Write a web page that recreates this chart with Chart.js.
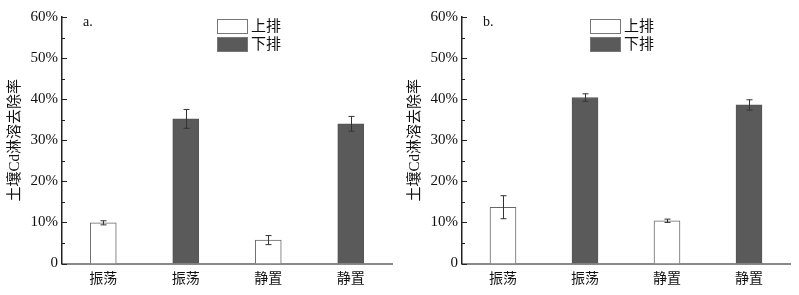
<!DOCTYPE html>
<html>
<head>
<meta charset="utf-8">
<script src="https://cdn.jsdelivr.net/npm/chart.js@4"></script>
<style>
  body { margin: 0; background: #fff; }
  #wrap { display: flex; width: 799px; height: 295px; }
  canvas { display: block; }
</style>
</head>
<body>
<div id="wrap">
  <canvas id="chartA" width="400" height="295"></canvas>
  <canvas id="chartB" width="399" height="295"></canvas>
</div>
<script>
const categories = ['振荡', '振荡', '静置', '静置'];
const seriesNames = ['上排', '下排'];

// panel a
const upperA = [9.9, null, 5.7, null];
const upperErrA = [0.5, null, 1.1, null];
const lowerA = [null, 35.2, null, 34.0];
const lowerErrA = [null, 2.3, null, 1.8];

// panel b
const upperB = [13.7, null, 10.4, null];
const upperErrB = [2.8, null, 0.4, null];
const lowerB = [null, 40.4, null, 38.6];
const lowerErrB = [null, 0.9, null, 1.25];

const yTicks = [0, 10, 20, 30, 40, 50, 60];

const serif = '"Liberation Serif", "Noto Sans CJK SC", serif';

// inward ticks, error bars, legend and panel letter
const decor = {
    id: 'decor',
    afterDatasetsDraw(chart, args, opts) {
        const ctx = chart.ctx;
        const y = chart.scales.y;
        const left = chart.chartArea.left;
        ctx.save();

        // y ticks (major + minor), pointing into the plot
        ctx.strokeStyle = '#222';
        ctx.lineWidth = 1;
        for (let k = 0; k < yTicks.length; k++) {
            const py = Math.round(y.getPixelForValue(yTicks[k])) + 0.5;
            ctx.beginPath();
            ctx.moveTo(left, py);
            ctx.lineTo(left + 5, py);
            ctx.stroke();
            if (k < yTicks.length - 1) {
                const my = Math.round(y.getPixelForValue((yTicks[k] + yTicks[k + 1]) / 2)) + 0.5;
                ctx.beginPath();
                ctx.moveTo(left, my);
                ctx.lineTo(left + 3, my);
                ctx.stroke();
            }
        }

        // error bars
        ctx.strokeStyle = '#333';
        chart.data.datasets.forEach((ds, i) => {
            const meta = chart.getDatasetMeta(i);
            meta.data.forEach((bar, j) => {
                const v = ds.data[j];
                if (v == null) return;
                const e = ds.errors[j];
                const x = Math.round(bar.x) + 0.5;
                const t = y.getPixelForValue(v + e);
                const b = y.getPixelForValue(v - e);
                ctx.beginPath();
                ctx.moveTo(x, t); ctx.lineTo(x, b);
                ctx.moveTo(x - 3, t); ctx.lineTo(x + 3, t);
                ctx.moveTo(x - 3, b); ctx.lineTo(x + 3, b);
                ctx.stroke();
            });
        });

        // legend
        ctx.font = '15px ' + serif;
        ctx.textBaseline = 'middle';
        ctx.textAlign = 'left';
        chart.data.datasets.forEach((ds, i) => {
            const bx = opts.legendX, by = 19 + i * 18;
            ctx.fillStyle = ds.backgroundColor;
            ctx.fillRect(bx, by, 31, 15);
            ctx.strokeStyle = '#777';
            ctx.strokeRect(bx + 0.5, by + 0.5, 30, 14);
            ctx.fillStyle = '#111';
            ctx.fillText(ds.label, bx + 34, by + 8);
        });

        // panel letter
        ctx.font = '14px ' + serif;
        ctx.fillText(opts.letter, left + 21, 22);
        ctx.restore();
    }
};

function makeChart(id, upper, upperErr, lower, lowerErr, letter, legendX, padRight) {
    return new Chart(document.getElementById(id).getContext('2d'), {
        type: 'bar',
        data: {
            labels: categories,
            datasets: [
                {
                    label: seriesNames[0],
                    data: upper,
                    errors: upperErr,
                    backgroundColor: '#ffffff',
                    borderColor: '#666',
                    borderWidth: 1
                },
                {
                    label: seriesNames[1],
                    data: lower,
                    errors: lowerErr,
                    backgroundColor: '#5a5a5a',
                    borderColor: '#555',
                    borderWidth: 1
                }
            ]
        },
        options: {
            responsive: false,
            animation: false,
            devicePixelRatio: 1,
            layout: { padding: { top: 17, right: padRight, bottom: 0, left: 0 } },
            datasets: { bar: { grouped: false, barThickness: 26 } },
            plugins: {
                legend: { display: false },
                tooltip: { enabled: false },
                decor: { letter: letter, legendX: legendX }
            },
            scales: {
                x: {
                    grid: { display: false, drawTicks: false },
                    border: { color: '#888', width: 2 },
                    ticks: {
                        padding: 7,
                        color: '#111',
                        font: { family: serif, size: 14 }
                    },
                    afterFit: (s) => { s.height = 31.5; }
                },
                y: {
                    min: 0,
                    max: 60,
                    grid: { display: false, drawTicks: false },
                    border: { color: '#222', width: 1.5 },
                    ticks: {
                        stepSize: 10,
                        padding: 4,
                        color: '#111',
                        font: { family: serif, size: 15 },
                        callback: (v) => v === 0 ? '0' : v + '%'
                    },
                    title: {
                        display: true,
                        text: '土壤Cd淋溶去除率',
                        color: '#111',
                        font: { family: serif, size: 15 },
                        padding: { top: 6, bottom: 0 }
                    },
                    afterFit: (s) => { s.width = 62; }
                }
            }
        },
        plugins: [decor]
    });
}

makeChart('chartA', upperA, upperErrA, lowerA, lowerErrA, 'a.', 217, 8);
makeChart('chartB', upperB, upperErrB, lowerB, lowerErrB, 'b.', 190, 9);
</script>
</body>
</html>
